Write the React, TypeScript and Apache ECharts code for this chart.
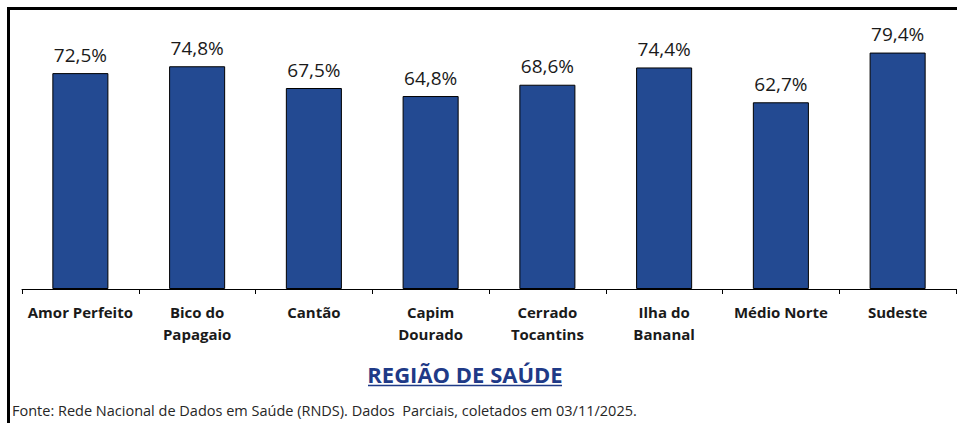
import React, { useEffect, useRef } from "react";
import * as echarts from "echarts";

const categories = [
  "Amor Perfeito",
  "Bico do\nPapagaio",
  "Cantão",
  "Capim\nDourado",
  "Cerrado\nTocantins",
  "Ilha do\nBananal",
  "Médio Norte",
  "Sudeste",
];
const values = [72.5, 74.8, 67.5, 64.8, 68.6, 74.4, 62.7, 79.4];
const axisTitle = "REGIÃO DE SAÚDE";
const footnote =
  "Fonte: Rede Nacional de Dados em Saúde (RNDS). Dados  Parciais, coletados em 03/11/2025.";

export default function App() {
  const ref = useRef<HTMLDivElement>(null);
  useEffect(() => {
    if (!ref.current) return;
    const chart = echarts.init(ref.current, undefined, { renderer: "svg" });
    chart.setOption({
      animation: false,
      backgroundColor: "#ffffff",
      grid: { left: 22, right: 1, top: 21, bottom: 134, containLabel: false },
      xAxis: {
        type: "category",
        data: categories,
        boundaryGap: true,
        axisLine: { show: true, lineStyle: { color: "#000000", width: 1 } },
        axisTick: { show: true, inside: false, length: 5, lineStyle: { color: "#000000" } },
        axisLabel: {
          interval: 0,
          margin: 12,
          color: "#1a1a1a",
          fontFamily: "Open Sans",
          fontWeight: "bold",
          fontSize: 15,
          lineHeight: 22,
        },
      },
      yAxis: {
        type: "value",
        min: 0,
        max: 90,
        show: false,
        splitLine: { show: false },
      },
      series: [
        {
          type: "bar",
          data: values,
          barWidth: "48%",
          itemStyle: { color: "#234a92", borderColor: "#000000", borderWidth: 1 },
          label: {
            show: true,
            position: "top",
            distance: 9,
            fontFamily: "Open Sans",
            fontSize: 19,
            color: "#1a1a1a",
            formatter: (p: any) => p.value.toFixed(1).replace(".", ",") + "%",
          },
        },
      ],
      graphic: [
        {
          type: "line",
          shape: { x1: 8.5, y1: 8, x2: 8.5, y2: 423 },
          style: { stroke: "#000000", lineWidth: 3 },
        },
        {
          type: "line",
          shape: { x1: 7, y1: 8.5, x2: 957, y2: 8.5 },
          style: { stroke: "#000000", lineWidth: 3 },
        },
        {
          type: "text",
          x: 465,
          y: 374,
          style: {
            text: axisTitle,
            fontFamily: "Open Sans",
            fontWeight: "bold",
            fontSize: 22,
            fill: "#1f3a87",
            align: "center",
            verticalAlign: "middle",
          },
        },
        {
          type: "line",
          shape: { x1: 368, y1: 385.5, x2: 562, y2: 385.5 },
          style: { stroke: "#1f3a87", lineWidth: 1.5 },
        },
        {
          type: "text",
          x: 12,
          y: 410,
          style: {
            text: footnote,
            fontFamily: "Open Sans",
            fontSize: 14.5,
            fill: "#262626",
            align: "left",
            verticalAlign: "middle",
          },
        },
      ],
    });
    return () => chart.dispose();
  }, []);
  return (
    <div
      ref={ref}
      style={{ position: "fixed", left: 0, top: 0, width: 957, height: 423 }}
    />
  );
}
